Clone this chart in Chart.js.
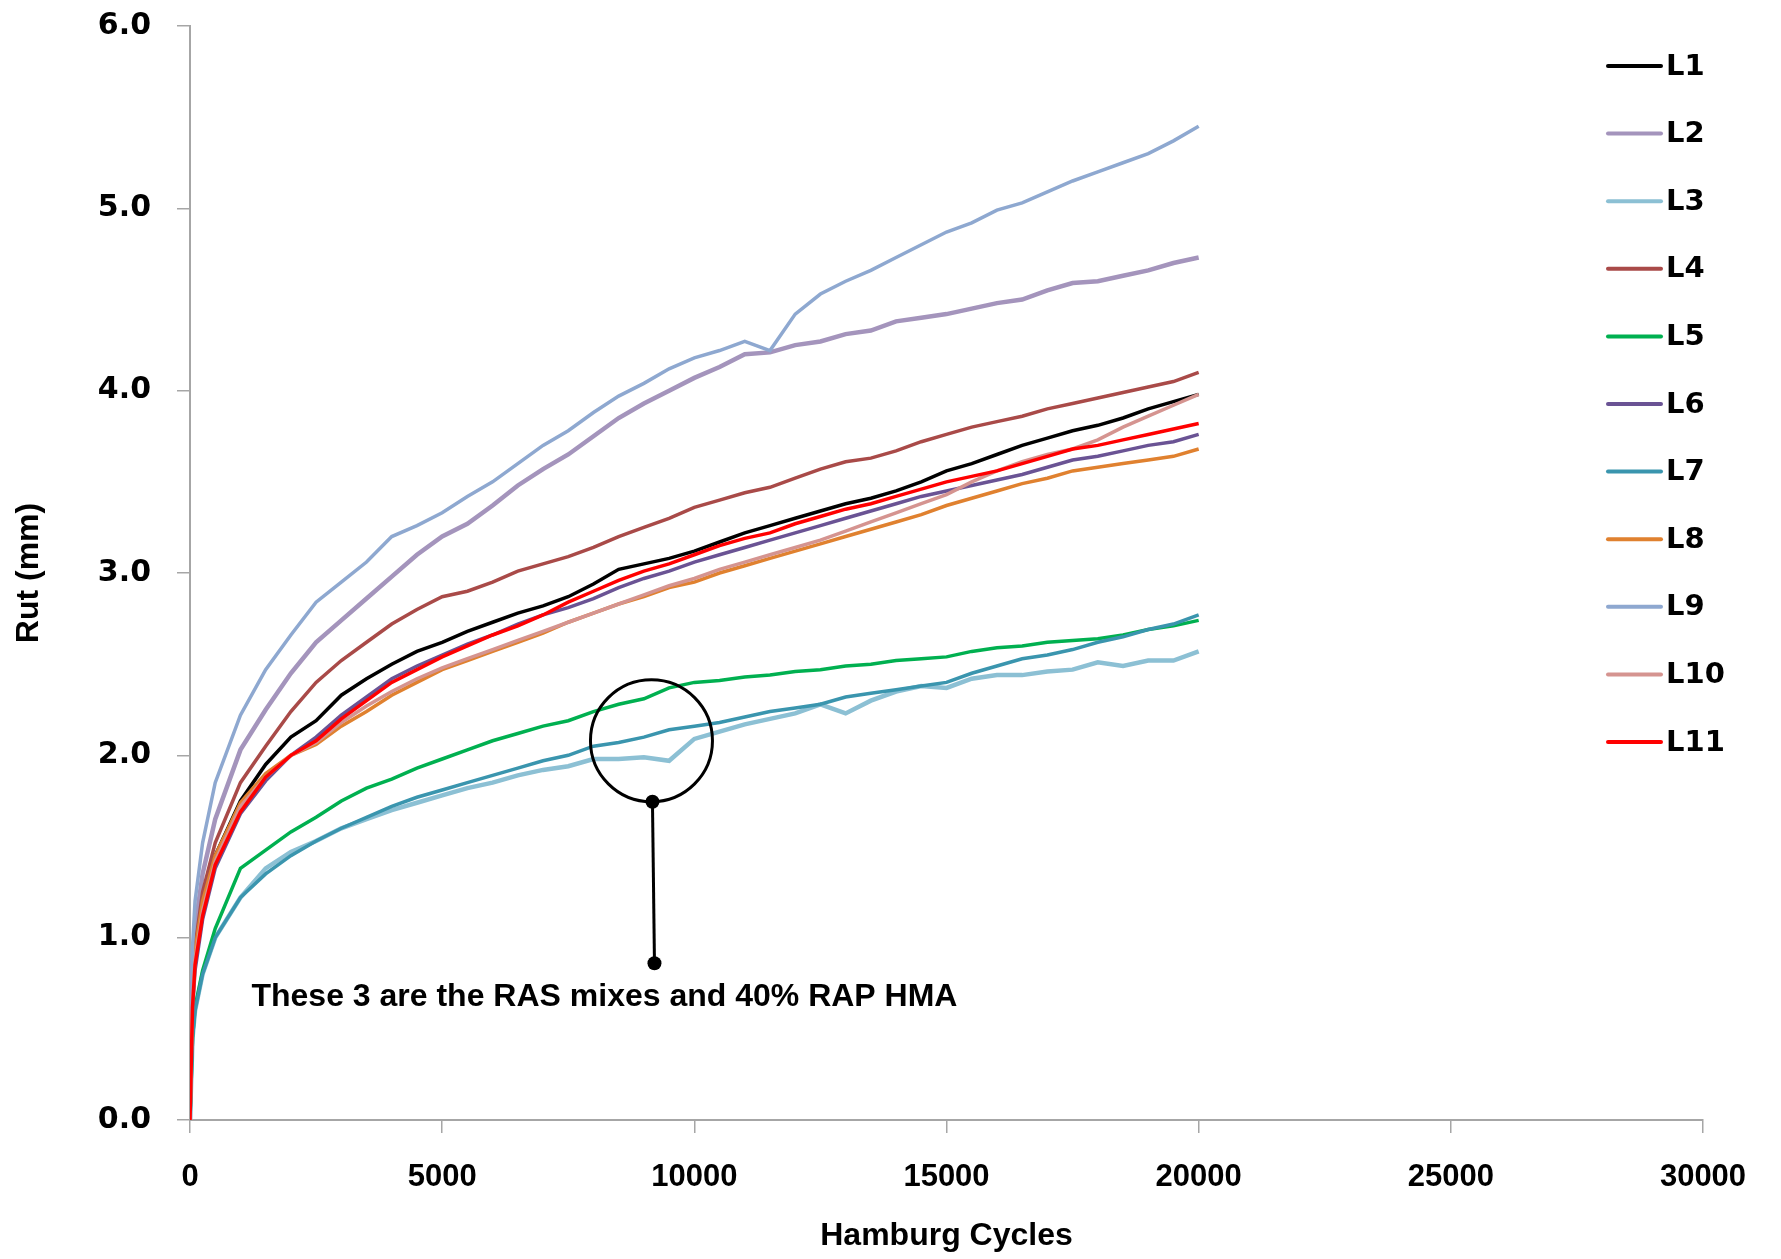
<!DOCTYPE html>
<html>
<head>
<meta charset="utf-8">
<script src="https://cdn.jsdelivr.net/npm/chart.js@4.4.1/dist/chart.umd.min.js"></script>
<style>
  html, body { margin: 0; padding: 0; background: #fff; }
  #wrap { width: 1781px; height: 1259px; }
</style>
</head>
<body>
<div id="wrap"><canvas id="rut"></canvas></div>
<script>
'use strict';

var cycles = [0, 50, 100, 250, 500, 1000, 1500, 2000, 2500, 3000, 3500, 4000, 4500, 5000,
  5500, 6000, 6500, 7000, 7500, 8000, 8500, 9000, 9500, 10000, 10500, 11000, 11500, 12000,
  12500, 13000, 13500, 14000, 14500, 15000, 15500, 16000, 16500, 17000, 17500, 18000,
  18500, 19000, 19500, 20000];

var labels = ['L1', 'L2', 'L3', 'L4', 'L5', 'L6', 'L7', 'L8', 'L9', 'L10', 'L11'];
var colors = ['#000000', '#A494BC', '#8CC0D4', '#A94A48', '#00B050', '#6A5394',
  '#3A95AE', '#E0812F', '#8EA8D0', '#D59490', '#FF0000'];

var L1 = [0, 0.7, 0.9, 1.18, 1.45, 1.75, 1.95, 2.1, 2.19, 2.33, 2.42, 2.5, 2.57, 2.62, 2.68, 2.73,
  2.78, 2.82, 2.87, 2.94, 3.02, 3.05, 3.08, 3.12, 3.17, 3.22, 3.26, 3.3, 3.34, 3.38, 3.41, 3.45,
  3.5, 3.56, 3.6, 3.65, 3.7, 3.74, 3.78, 3.81, 3.85, 3.9, 3.94, 3.98];
var L2 = [0, 0.85, 1.05, 1.35, 1.65, 2.03, 2.25, 2.45, 2.62, 2.74, 2.86, 2.98, 3.1, 3.2, 3.27, 3.37,
  3.48, 3.57, 3.65, 3.75, 3.85, 3.93, 4.0, 4.07, 4.13, 4.2, 4.21, 4.25, 4.27, 4.31, 4.33, 4.38,
  4.4, 4.42, 4.45, 4.48, 4.5, 4.55, 4.59, 4.6, 4.63, 4.66, 4.7, 4.73];
var L3 = [0, 0.45, 0.6, 0.8, 1.0, 1.22, 1.38, 1.47, 1.53, 1.6, 1.65, 1.7, 1.74, 1.78, 1.82, 1.85,
  1.89, 1.92, 1.94, 1.98, 1.98, 1.99, 1.97, 2.09, 2.13, 2.17, 2.2, 2.23, 2.28, 2.23, 2.3, 2.35,
  2.38, 2.37, 2.42, 2.44, 2.44, 2.46, 2.47, 2.51, 2.49, 2.52, 2.52, 2.57];
var L4 = [0, 0.75, 0.95, 1.25, 1.52, 1.85, 2.05, 2.24, 2.4, 2.52, 2.62, 2.72, 2.8, 2.87, 2.9, 2.95,
  3.01, 3.05, 3.09, 3.14, 3.2, 3.25, 3.3, 3.36, 3.4, 3.44, 3.47, 3.52, 3.57, 3.61, 3.63, 3.67,
  3.72, 3.76, 3.8, 3.83, 3.86, 3.9, 3.93, 3.96, 3.99, 4.02, 4.05, 4.1];
var L5 = [0, 0.45, 0.62, 0.82, 1.05, 1.38, 1.48, 1.58, 1.66, 1.75, 1.82, 1.87, 1.93, 1.98, 2.03, 2.08,
  2.12, 2.16, 2.19, 2.24, 2.28, 2.31, 2.37, 2.4, 2.41, 2.43, 2.44, 2.46, 2.47, 2.49, 2.5, 2.52,
  2.53, 2.54, 2.57, 2.59, 2.6, 2.62, 2.63, 2.64, 2.66, 2.69, 2.71, 2.74];
var L6 = [0, 0.6, 0.82, 1.1, 1.38, 1.68, 1.86, 2.0, 2.1, 2.22, 2.32, 2.42, 2.49, 2.55, 2.61, 2.66,
  2.72, 2.77, 2.81, 2.86, 2.92, 2.97, 3.01, 3.06, 3.1, 3.14, 3.18, 3.22, 3.26, 3.3, 3.34, 3.38,
  3.42, 3.45, 3.48, 3.51, 3.54, 3.58, 3.62, 3.64, 3.67, 3.7, 3.72, 3.76];
var L7 = [0, 0.45, 0.6, 0.8, 1.0, 1.22, 1.35, 1.45, 1.53, 1.6, 1.66, 1.72, 1.77, 1.81, 1.85, 1.89,
  1.93, 1.97, 2.0, 2.05, 2.07, 2.1, 2.14, 2.16, 2.18, 2.21, 2.24, 2.26, 2.28, 2.32, 2.34, 2.36,
  2.38, 2.4, 2.45, 2.49, 2.53, 2.55, 2.58, 2.62, 2.65, 2.69, 2.72, 2.77];
var L8 = [0, 0.7, 0.93, 1.2, 1.45, 1.74, 1.9, 2.0, 2.06, 2.16, 2.24, 2.33, 2.4, 2.47, 2.52, 2.57,
  2.62, 2.67, 2.73, 2.78, 2.83, 2.87, 2.92, 2.95, 3.0, 3.04, 3.08, 3.12, 3.16, 3.2, 3.24, 3.28,
  3.32, 3.37, 3.41, 3.45, 3.49, 3.52, 3.56, 3.58, 3.6, 3.62, 3.64, 3.68];
var L9 = [0, 0.95, 1.2, 1.52, 1.85, 2.22, 2.47, 2.66, 2.84, 2.95, 3.06, 3.2, 3.26, 3.33, 3.42, 3.5,
  3.6, 3.7, 3.78, 3.88, 3.97, 4.04, 4.12, 4.18, 4.22, 4.27, 4.22, 4.42, 4.53, 4.6, 4.66, 4.73,
  4.8, 4.87, 4.92, 4.99, 5.03, 5.09, 5.15, 5.2, 5.25, 5.3, 5.37, 5.45];
var L10 = [0, 0.65, 0.88, 1.15, 1.42, 1.72, 1.88, 2.0, 2.07, 2.18, 2.27, 2.35, 2.42, 2.48, 2.53, 2.58,
  2.63, 2.68, 2.73, 2.78, 2.83, 2.88, 2.93, 2.97, 3.02, 3.06, 3.1, 3.14, 3.18, 3.23, 3.28, 3.33,
  3.38, 3.43, 3.5, 3.56, 3.61, 3.65, 3.68, 3.73, 3.8, 3.86, 3.92, 3.98];
var L11 = [0, 0.62, 0.85, 1.12, 1.4, 1.69, 1.88, 2.0, 2.08, 2.2, 2.3, 2.4, 2.47, 2.54, 2.6, 2.66,
  2.71, 2.77, 2.84, 2.9, 2.96, 3.01, 3.05, 3.1, 3.15, 3.19, 3.22, 3.27, 3.31, 3.35, 3.38, 3.42,
  3.46, 3.5, 3.53, 3.56, 3.6, 3.64, 3.68, 3.7, 3.73, 3.76, 3.79, 3.82];

var series = [L1, L2, L3, L4, L5, L6, L7, L8, L9, L10, L11];
var widths = [3.5, 4.5, 4.5, 3.5, 3.5, 3.5, 3.5, 3.5, 3.5, 3.5, 3.5];

var datasets = series.map(function (vals, i) {
  return {
    label: labels[i],
    data: vals.map(function (v, k) { return { x: cycles[k], y: v }; }),
    borderColor: colors[i],
    backgroundColor: colors[i],
    borderWidth: widths[i],
    pointRadius: 0,
    tension: 0,
    fill: false,
    order: series.length - i
  };
});

// legend drawn on top of the plot, like the original
var sideLegend = {
  id: 'sideLegend',
  afterDraw: function (chart) {
    var ctx = chart.ctx;
    ctx.save();
    ctx.font = 'bold 29px "DejaVu Sans"';
    ctx.textBaseline = 'middle';
    chart.data.datasets.forEach(function (ds, i) {
      var y = 66 + i * 67.6;
      ctx.strokeStyle = ds.borderColor;
      ctx.lineWidth = 4;
      ctx.lineCap = 'round';
      ctx.beginPath();
      ctx.moveTo(1608, y);
      ctx.lineTo(1661, y);
      ctx.stroke();
      ctx.fillStyle = '#000';
      ctx.fillText(ds.label, 1666, y + 1);
    });
    ctx.restore();
  }
};

// circle + pointer callout
var callout = {
  id: 'callout',
  afterDraw: function (chart) {
    var ctx = chart.ctx;
    var xs = chart.scales.x, ys = chart.scales.y;
    var cx = xs.getPixelForValue(9150), cy = ys.getPixelForValue(2.08);
    var r = 61;
    var ly = ys.getPixelForValue(0.86);
    ctx.save();
    ctx.strokeStyle = '#000';
    ctx.fillStyle = '#000';
    ctx.lineWidth = 3;
    ctx.beginPath();
    ctx.arc(cx, cy, r, 0, Math.PI * 2);
    ctx.stroke();
    ctx.beginPath();
    ctx.moveTo(cx + 1, cy + r);
    ctx.lineTo(cx + 3, ly);
    ctx.stroke();
    ctx.beginPath();
    ctx.arc(cx + 1, cy + r, 7, 0, Math.PI * 2);
    ctx.fill();
    ctx.beginPath();
    ctx.arc(cx + 3, ly, 7, 0, Math.PI * 2);
    ctx.fill();
    ctx.font = 'bold 32px "Liberation Sans"';
    ctx.textAlign = 'center';
    ctx.textBaseline = 'middle';
    ctx.fillText('These 3 are the RAS mixes and 40% RAP HMA', cx - 47, ly + 34);
    ctx.restore();
  }
};

var axisGray = '#A6A6A6';

new Chart(document.getElementById('rut'), {
  type: 'line',
  data: { datasets: datasets },
  options: {
    responsive: true,
    maintainAspectRatio: false,
    animation: false,
    layout: { padding: { top: 26, right: 78, left: 0, bottom: 0 } },
    plugins: {
      legend: { display: false },
      tooltip: { enabled: false }
    },
    scales: {
      x: {
        type: 'linear',
        min: 0,
        max: 30000,
        border: { display: true, color: axisGray, width: 2 },
        grid: { drawOnChartArea: false, tickLength: 13, color: axisGray, lineWidth: 1.5 },
        ticks: {
          stepSize: 5000,
          padding: 26,
          color: '#000',
          font: { family: 'Liberation Sans', weight: 'bold', size: 31 },
          maxRotation: 0,
          callback: function (v) { return String(v); }
        },
        title: {
          display: true,
          text: 'Hamburg Cycles',
          color: '#000',
          font: { family: 'Liberation Sans', weight: 'bold', size: 32 },
          padding: { top: 0, bottom: 4 }
        },
        afterFit: function (s) {
          s.height = 139;
          s.paddingLeft = 0;
          s.paddingRight = 0;
        }
      },
      y: {
        min: 0,
        max: 6,
        border: { display: true, color: axisGray, width: 2 },
        grid: { drawOnChartArea: false, tickLength: 13, color: axisGray, lineWidth: 1.5 },
        ticks: {
          stepSize: 1,
          padding: 26,
          color: '#000',
          font: { family: 'DejaVu Sans', weight: 'bold', size: 30 },
          callback: function (v) { return v.toFixed(1); }
        },
        title: {
          display: true,
          text: 'Rut (mm)',
          color: '#000',
          font: { family: 'Liberation Sans', weight: 'bold', size: 32 },
          padding: { top: 10, bottom: 0 }
        },
        afterFit: function (s) {
          s.width = 190;
          s.paddingTop = 0;
          s.paddingBottom = 0;
        }
      }
    }
  },
  plugins: [sideLegend, callout]
});
</script>
</body>
</html>
